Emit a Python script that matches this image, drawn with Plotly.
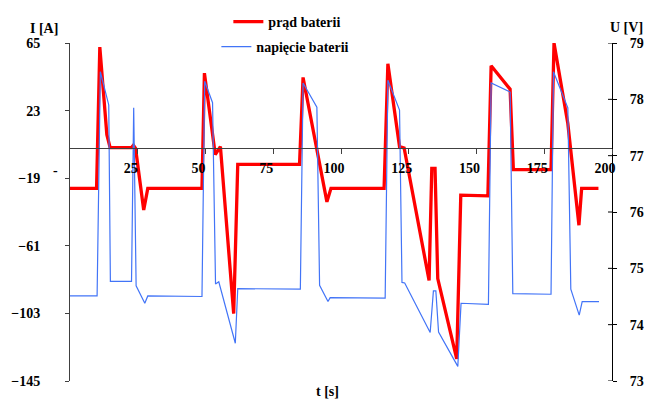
import plotly.graph_objects as go

# Battery current I [A] over time t [s]
t_current = [0, 9.8, 11.0, 13.6, 14.8, 22.7, 23.4, 24.2, 27.2, 28.7,
             48.7, 49.6, 53.6, 55.5, 60.4, 61.9, 84.7, 86.0, 94.8, 96.3,
             115.9, 117.3, 121.6, 123.3, 132.5, 133.5, 134.7, 135.7, 142.7, 144.2,
             154.2, 155.4, 162.4, 163.6, 177.5, 178.6, 183.7, 187.8, 188.8, 195.0]
current_A = [-25.3, -25.3, 62.5, 8.0, 0.0, 0.0, 1.5, -0.5, -38.8, -25.3,
             -25.3, 46.3, -4.3, 0.6, -103.2, -10.4, -10.4, 43.6, -33.7, -25.3,
             -25.3, 52.1, 0.6, -0.2, -82.5, -12.9, -12.9, -81.4, -131.3, -29.5,
             -30.0, 50.9, 36.3, -13.7, -13.7, 65.0, 15.0, -48.2, -25.3, -25.3]

# Battery voltage U [V] over time t [s]
t_voltage = [0, 10.0, 11.2, 14.3, 14.9, 22.7, 23.5, 24.4, 27.6, 28.7,
             48.7, 49.7, 52.6, 53.7, 54.9, 61.0, 61.9, 85.0, 86.0, 91.1,
             92.1, 95.2, 96.0, 116.3, 117.3, 121.6, 122.5, 123.5, 132.9, 134.1,
             135.0, 136.0, 143.1, 144.3, 154.4, 155.4, 162.4, 163.4, 177.5, 178.4,
             183.7, 184.8, 187.9, 189.0, 195.2]
voltage_V = [74.51, 74.51, 78.49, 77.90, 74.77, 74.77, 77.85, 74.69, 74.38, 74.51,
             74.50, 78.32, 77.94, 74.72, 74.76, 73.67, 74.64, 74.63, 78.29, 77.86,
             74.70, 74.41, 74.48, 74.47, 78.34, 77.81, 74.75, 74.74, 73.86, 74.60,
             74.60, 73.87, 73.26, 74.38, 74.36, 78.29, 78.13, 74.55, 74.54, 78.49,
             77.85, 74.63, 74.17, 74.41, 74.41]

i_ticks = [-145, -103, -61, -19, 23, 65]
u_ticks = [73, 74, 75, 76, 77, 78, 79]
t_ticks = [0, 25, 50, 75, 100, 125, 150, 175, 200]
t_tick_text = ["-", "25", "50", "75", "100", "125", "150", "175", "200"]

FONT = "'Liberation Serif', 'Times New Roman', Times, serif"
bold_font = dict(family=FONT, size=14, color="black", weight=700)

fig = go.Figure()

fig.add_trace(go.Scatter(
    x=t_voltage, y=voltage_V, yaxis="y2", mode="lines",
    name="<b>napięcie baterii</b>", legend="legend2",
    line=dict(color="#4274f7", width=1.2),
))
fig.add_trace(go.Scatter(
    x=t_current, y=current_A, yaxis="y", mode="lines",
    name="<b>prąd baterii</b>", legend="legend",
    line=dict(color="#ff0000", width=3.3),
))

i_min, i_max = i_ticks[0], i_ticks[-1]
zero_pos = (0 - i_min) / (i_max - i_min)

fig.update_layout(
    width=663, height=410,
    margin=dict(l=69.5, r=51, t=43, b=29, autoexpand=False),
    paper_bgcolor="white", plot_bgcolor="white",
    font=dict(family=FONT, size=14, color="black"),
    xaxis=dict(
        range=[0, 200], anchor="free", position=zero_pos,
        showline=True, linecolor="#404040", linewidth=1,
        showgrid=False, zeroline=False,
        tickmode="array", tickvals=t_ticks[1:], ticktext=t_tick_text[1:],
        ticks="outside", ticklen=5, tickcolor="#404040",
        tickfont=bold_font, ticklabelshift=-7, ticklabelstandoff=3,
    ),
    yaxis=dict(
        range=[i_min, i_max],
        showline=True, linecolor="#404040", linewidth=1,
        showgrid=False, zeroline=False,
        tickmode="array", tickvals=i_ticks,
        ticks="outside", ticklen=4, tickcolor="#404040",
        tickfont=bold_font, ticklabelstandoff=22,
    ),
    yaxis2=dict(
        range=[u_ticks[0], u_ticks[-1]], overlaying="y", side="right",
        showline=True, linecolor="black", linewidth=1,
        showgrid=False, zeroline=False,
        tickmode="array", tickvals=u_ticks,
        ticks="outside", ticklen=4, tickcolor="black",
        tickfont=bold_font, ticklabelstandoff=10,
    ),
    legend=dict(
        x=(228 - 69.5) / 542.5, xanchor="left",
        y=(381 - 22) / 338, yanchor="middle",
        bgcolor="rgba(0,0,0,0)", borderwidth=0,
        font=bold_font,
    ),
    legend2=dict(
        x=(216 - 69.5) / 542.5, xanchor="left",
        y=(381 - 47) / 338, yanchor="middle",
        bgcolor="rgba(0,0,0,0)", borderwidth=0,
        font=bold_font,
    ),
    showlegend=True,
)

# Zero label of the time axis, set left of the origin
fig.add_annotation(text="<b>" + t_tick_text[0] + "</b>", xref="paper", yref="paper",
                   x=0, y=zero_pos, xanchor="center", yanchor="middle",
                   xshift=-14.5, yshift=-23, showarrow=False, font=bold_font)

# Inner halves of the crossing ticks on the right axis
for u in u_ticks:
    fig.add_shape(type="line", xref="paper", yref="y2",
                  x0=1, x1=1 - 4 / 542.5, y0=u, y1=u,
                  line=dict(color="black", width=1))

# Axis titles
fig.add_annotation(text="<b>I [A]</b>", xref="paper", yref="paper", x=0, y=1,
                   xshift=-42, yshift=24, showarrow=False, font=bold_font)
fig.add_annotation(text="<b>U [V]</b>", xref="paper", yref="paper", x=1, y=1,
                   xshift=33, yshift=25, showarrow=False, font=bold_font)
fig.add_annotation(text="<b>t [s]</b>", xref="paper", yref="paper", x=(327 - 69.5) / 542.5, y=0,
                   yshift=-20, showarrow=False, font=bold_font)

fig.write_html("out.html")
